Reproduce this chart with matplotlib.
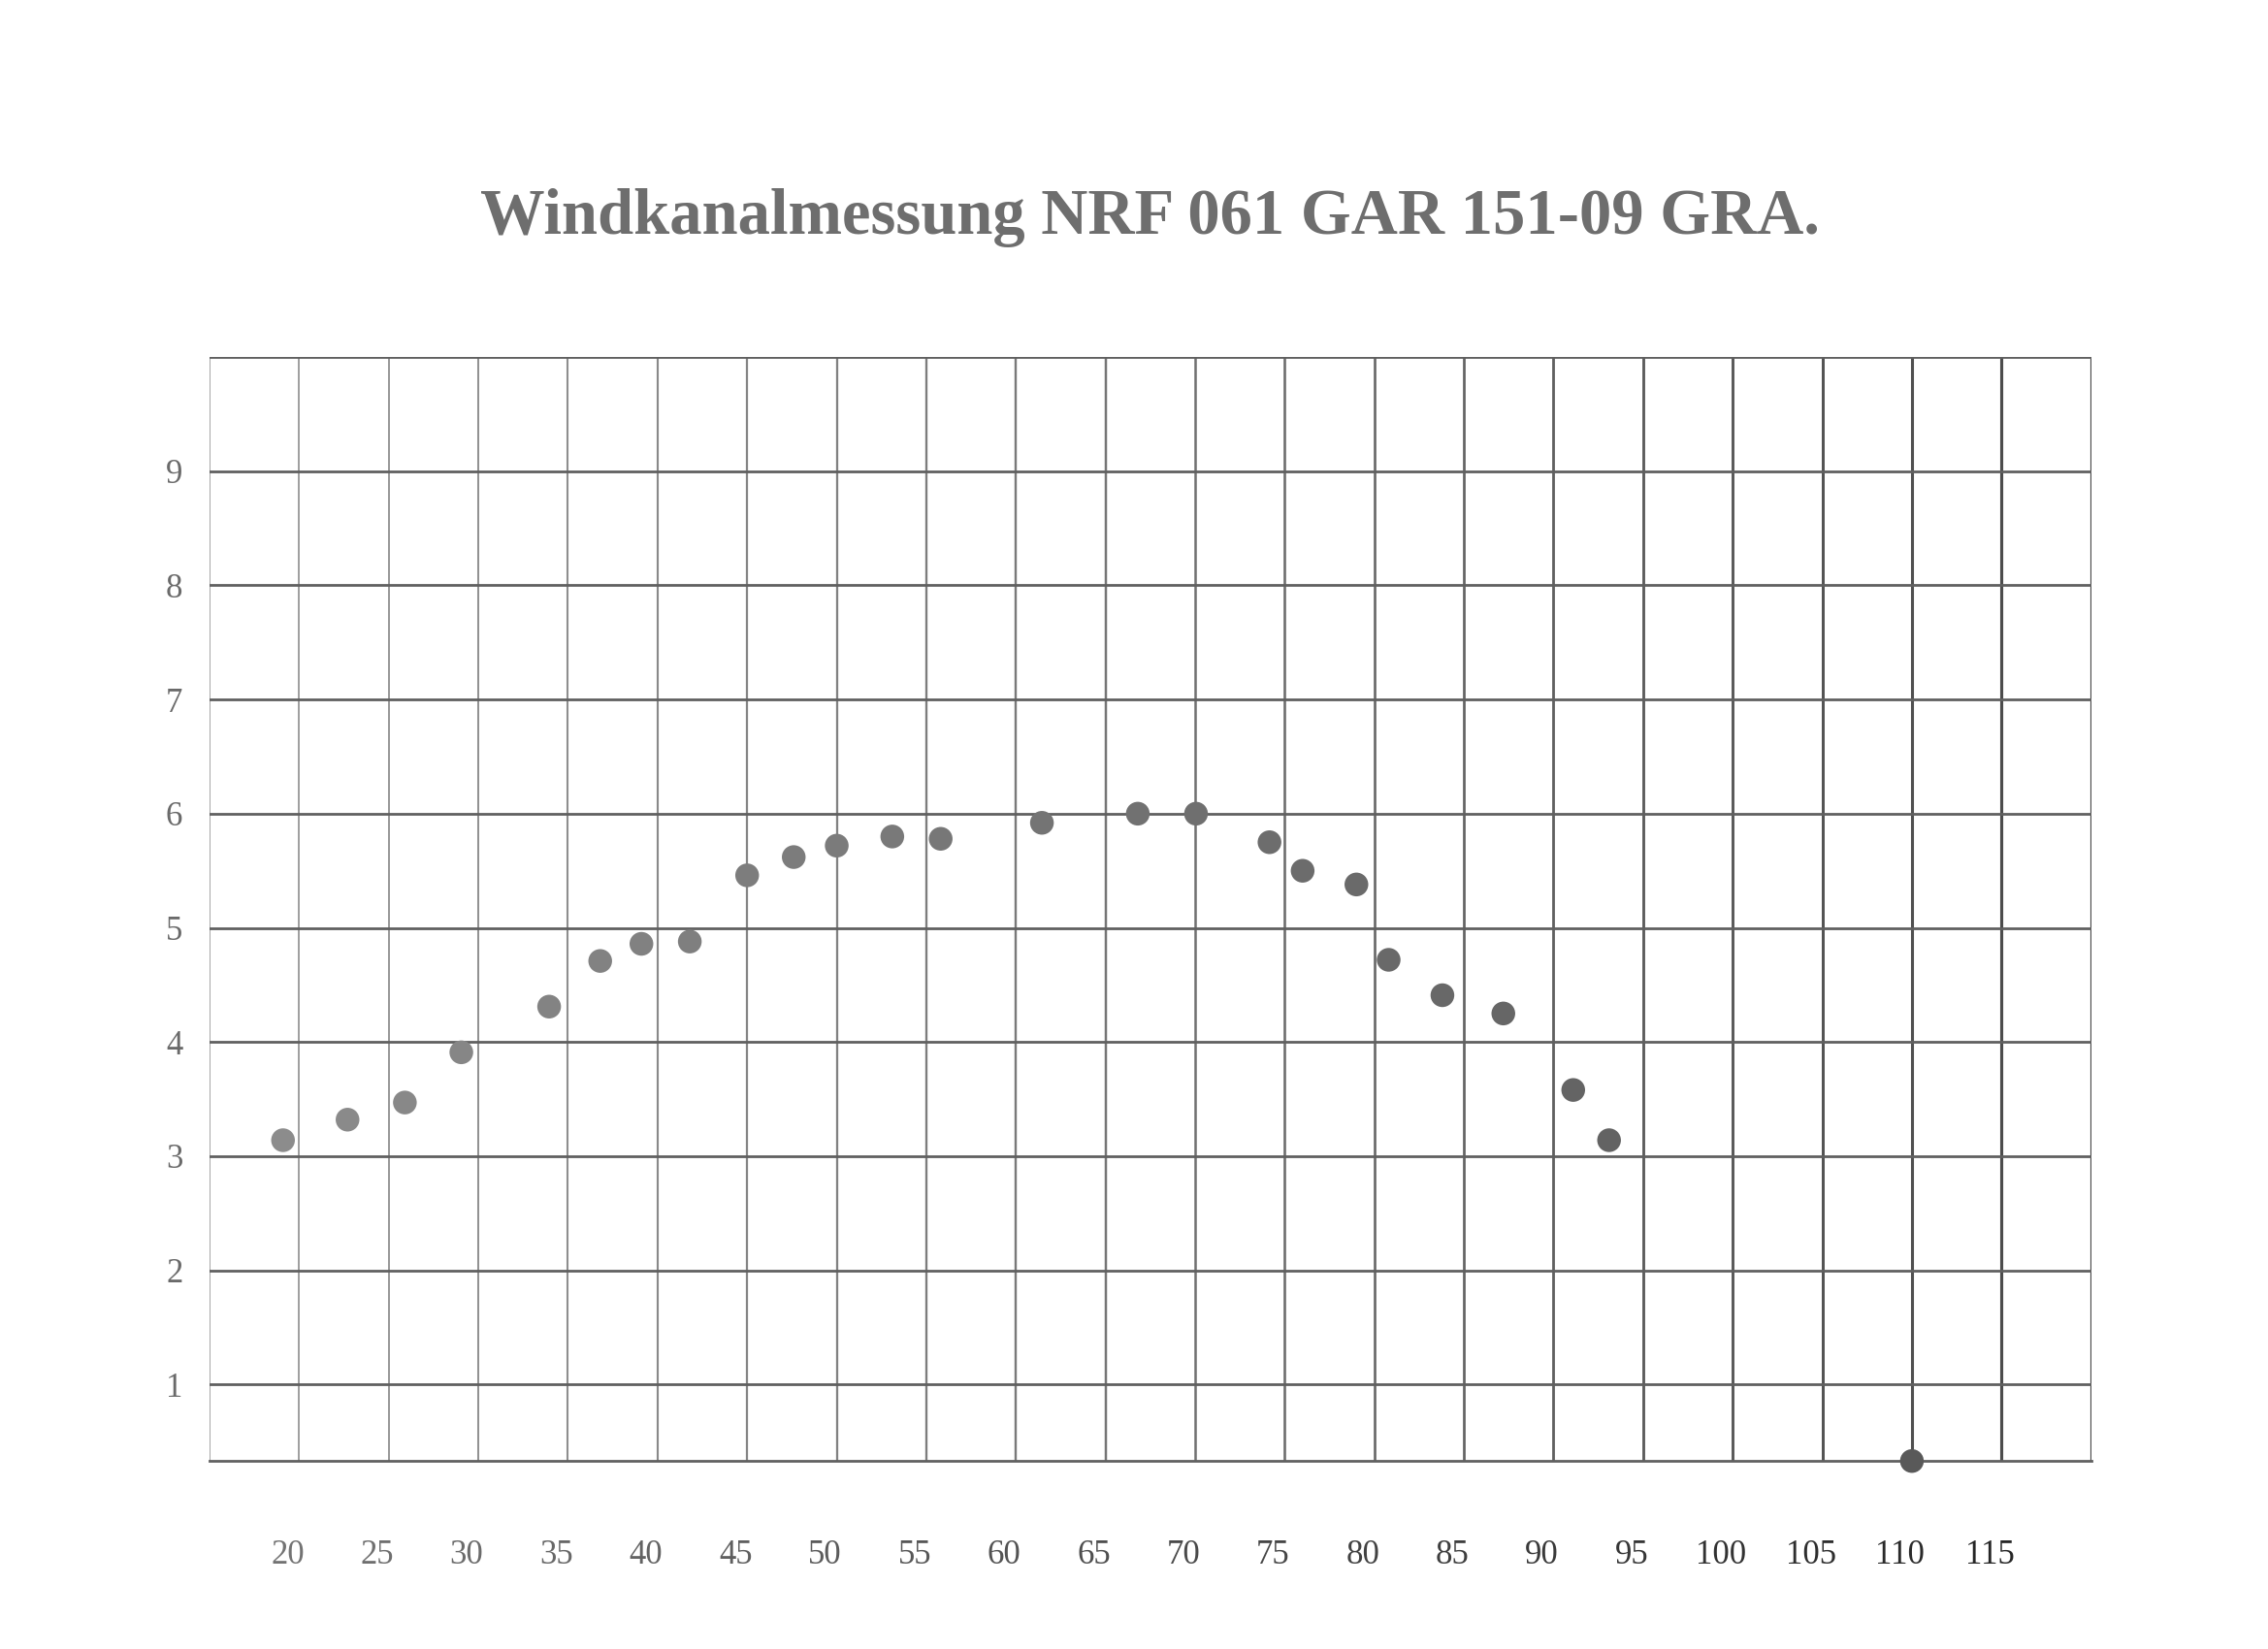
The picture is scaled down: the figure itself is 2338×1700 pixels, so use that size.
import numpy as np
import matplotlib
matplotlib.use('Agg')
import matplotlib.pyplot as plt
from matplotlib.transforms import ScaledTranslation

# Data read from the scanned sheet
geschw = [19.1, 22.7, 25.9, 29.05, 33.95, 36.8, 39.1, 41.8, 45.0, 47.6, 50.0, 53.1, 55.8,
          61.45, 66.8, 70.05, 74.15, 76.0, 79.0, 80.8, 83.8, 87.2, 91.1, 93.1, 110.0]
werte = [3.14, 3.32, 3.47, 3.91, 4.31, 4.71, 4.86, 4.88, 5.46, 5.62, 5.72, 5.80, 5.78,
         5.92, 6.0, 6.0, 5.75, 5.50, 5.38, 4.72, 4.41, 4.25, 3.58, 3.14, 0.33]
x_ticks = list(range(20, 120, 5))
y_ticks = list(range(1, 10))
title = 'Windkanalmessung NRF 061 GAR 151-09 GRA.'

plt.rcParams['font.family'] = ['Liberation Serif', 'DejaVu Serif']

fig = plt.figure(figsize=(23.38, 17), dpi=100)
ax = fig.add_axes([0.0924, 0.114, 0.8296, 0.6695])
ax.set_xlim(15, 120)
ax.set_ylim(0.33, 10)

# grid like the printed sheet: lighter on the left, darker to the right
for xv in range(15, 125, 5):
    g = np.interp(xv, [15, 120], [0.62, 0.28])
    ax.axvline(xv, color=str(g), lw=np.interp(xv, [15, 120], [1.3, 2.3]), zorder=1)
for yv in y_ticks + [10]:
    ax.axhline(yv, color='#606060', lw=2.0, zorder=1)
ax.axhline(0.33, color='#606060', lw=2.0, zorder=1, clip_on=False)

for side, sp in ax.spines.items():
    sp.set_visible(False)

# points
greys = [str(np.interp(v, [18, 110], [0.55, 0.35])) for v in geschw]
ax.scatter(geschw, werte, s=310, c=greys, edgecolors='none', zorder=3, clip_on=False)

ax.set_xticks(x_ticks)
ax.set_yticks(y_ticks)
ax.tick_params(axis='both', length=0, labelsize=25)
ax.tick_params(axis='x', pad=58)
ax.tick_params(axis='y', pad=20)

shift = ScaledTranslation(-0.12, 0, fig.dpi_scale_trans)
for lab, xv in zip(ax.get_xticklabels(), x_ticks):
    lab.set_transform(lab.get_transform() + shift)
    lab.set_color(str(np.interp(xv, [20, 115], [0.45, 0.15])))
for lab in ax.get_yticklabels():
    lab.set_color('#6a6a6a')

fig.text(0.507, 0.868, title, ha='center', va='center', fontsize=48,
         fontweight='bold', color='#6e6e6e')

plt.savefig('out.png', dpi=100, facecolor='white')
